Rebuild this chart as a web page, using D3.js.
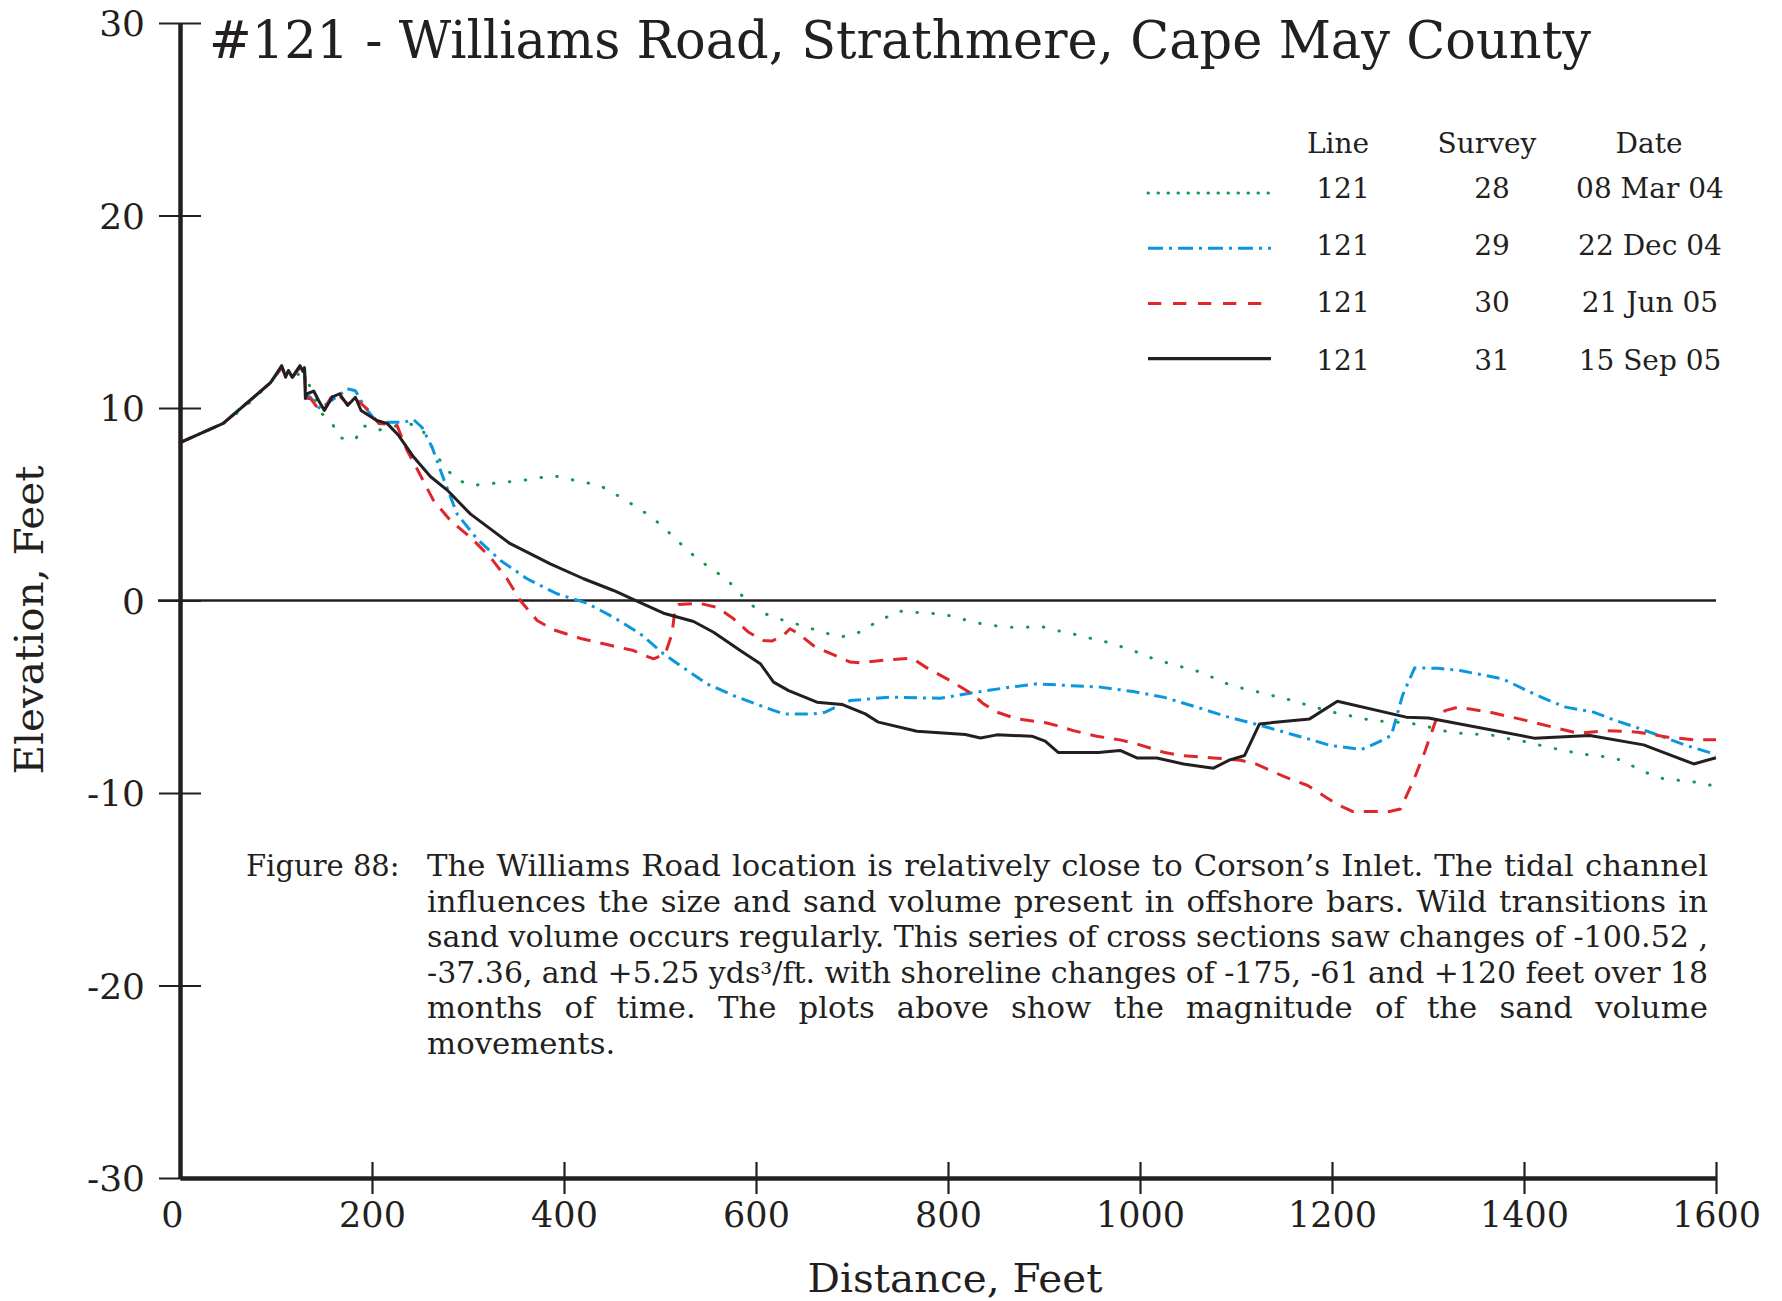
<!DOCTYPE html>
<html>
<head>
<meta charset="utf-8">
<script src="https://cdn.jsdelivr.net/npm/d3@7/dist/d3.min.js"></script>
<style>
  html, body { margin: 0; padding: 0; background: #ffffff; }
  svg { display: block; }
  text { font-family: "DejaVu Serif", "Liberation Serif", serif; fill: #231f20; }
</style>
</head>
<body>
<svg id="chart" width="1782" height="1301"></svg>
<script>
// ---------------- DATA ----------------
const chartTitle = "#121 - Williams Road, Strathmere, Cape May County";
const xTickValues = [0, 200, 400, 600, 800, 1000, 1200, 1400, 1600];
const yTickValues = [30, 20, 10, 0, -10, -20, -30];
const xLabel = "Distance, Feet";
const yLabel = "Elevation, Feet";

const legendHeaders = ["Line", "Survey", "Date"];
const legendLines = ["121", "121", "121", "121"];
const legendSurveys = ["28", "29", "30", "31"];
const legendDates = ["08 Mar 04", "22 Dec 04", "21 Jun 05", "15 Sep 05"];

// Survey 28 — 08 Mar 04 (distance ft, elevation ft)
const survey28 = [[0,8.2],[45,9.2],[61,9.8],[73,10.3],[94,11.3],[106,12.0],[115,11.86],[123.6,11.74],[134,11.26],[140,10.6],[146,9.79],[158.4,9.21],[166.3,8.45],[182.7,8.35],[190.3,9.1],[205.2,8.83],[236.5,9.21],[251,9.0],[267.4,7.53],[277.2,6.84],[289.2,6.25],[304.8,5.98],[321.5,6.06],[338.2,6.15],[354.5,6.22],[371.2,6.34],[387.5,6.5],[403.8,6.32],[420.4,6.15],[437,5.98],[451.6,5.58],[465.6,5.16],[480.2,4.71],[494,4.22],[506.5,3.67],[518.7,3.08],[530.8,2.51],[543.7,1.99],[557.6,1.52],[571.4,1.0],[582.6,0.4],[594,-0.19],[607.9,-0.66],[623.5,-0.95],[639.5,-1.18],[655.8,-1.43],[671.5,-1.68],[687.7,-1.89],[703.3,-1.77],[717.9,-1.33],[732.8,-0.95],[747.8,-0.55],[764,-0.61],[780.8,-0.66],[797.8,-0.74],[813.7,-0.95],[830,-1.16],[846.7,-1.3],[863,-1.39],[880.4,-1.39],[897,-1.35],[913.4,-1.56],[929.7,-1.73],[946.4,-1.94],[963,-2.13],[978.6,-2.37],[994.2,-2.63],[1009.8,-2.95],[1026.2,-3.21],[1041.8,-3.43],[1058.1,-3.64],[1073.6,-3.95],[1089.2,-4.3],[1105,-4.54],[1121.4,-4.73],[1138,-4.94],[1154.3,-5.14],[1170,-5.37],[1186.4,-5.6],[1202.6,-5.82],[1219.2,-5.99],[1235.8,-6.17],[1252,-6.27],[1268.7,-6.32],[1285.7,-6.41],[1301.5,-6.58],[1318.5,-6.79],[1335.2,-6.9],[1351.8,-6.95],[1368.8,-7.01],[1384.6,-7.19],[1400.9,-7.33],[1417.5,-7.53],[1433.7,-7.71],[1450.3,-7.88],[1467.3,-8.02],[1484,-8.11],[1500.3,-8.28],[1515.7,-8.66],[1530.5,-9.01],[1545.9,-9.27],[1563.3,-9.35],[1579.5,-9.44],[1596,-9.61],[1600,-9.65]];

// Survey 29 — 22 Dec 04
const survey29 = [[0,8.2],[45,9.2],[94,11.3],[106,12.1],[110,11.7],[113,11.9],[117,11.6],[125,12.1],[128,11.9],[130,12.0],[131,10.5],[135,10.6],[140,10.3],[146,9.96],[158,10.4],[166.7,10.7],[174,11.0],[182.7,10.9],[191.3,10.13],[205.2,9.26],[233,9.26],[243.4,9.39],[252,9.0],[262.5,7.97],[274.6,6.32],[288.6,4.5],[309.4,3.2],[333.8,2.08],[361.5,1.13],[392.7,0.35],[423.9,-0.14],[451.6,-0.87],[479.5,-1.73],[503.7,-2.77],[521.1,-3.38],[548.9,-4.33],[576.6,-4.94],[604.4,-5.46],[628.7,-5.89],[660,-5.89],[672.1,-5.8],[698,-5.2],[739.8,-5.02],[791.9,-5.08],[830,-4.76],[864.7,-4.5],[892.5,-4.33],[927.1,-4.42],[958.4,-4.5],[993.1,-4.73],[1024.4,-5.02],[1059,-5.54],[1090.4,-6.03],[1126.3,-6.5],[1178.7,-7.24],[1198,-7.53],[1230.9,-7.74],[1248.3,-7.36],[1261.8,-7.01],[1273.4,-4.94],[1286.1,-3.5],[1310.1,-3.52],[1333.3,-3.64],[1356.5,-3.86],[1377.7,-4.07],[1402.9,-4.68],[1422.1,-5.11],[1443.4,-5.54],[1472.4,-5.8],[1495.6,-6.24],[1524.6,-6.72],[1569.1,-7.53],[1600,-8.0]];

// Survey 30 — 21 Jun 05
const survey30 = [[0,8.2],[45,9.2],[94,11.3],[106,12.1],[110,11.7],[117,11.6],[125,12.1],[130,12.0],[131,10.5],[135.8,10.5],[142,10.1],[150,9.9],[156.6,10.5],[163,10.8],[174.6,10.2],[182.7,10.5],[194.8,9.96],[207,9.2],[226,9.1],[236.5,7.8],[246.9,6.84],[264,5.2],[281.6,4.16],[302.4,3.29],[323.2,2.25],[340.6,1.13],[354.5,0],[372,-1.04],[389.1,-1.52],[418.6,-1.99],[444.7,-2.29],[472.5,-2.6],[479.5,-2.77],[493.3,-3.03],[505.5,-2.77],[512.5,-1.73],[515.9,-0.35],[519.3,-0.21],[540.2,-0.14],[559.3,-0.35],[576.6,-0.95],[592.3,-1.65],[607.9,-2.08],[616.6,-2.11],[628.7,-1.8],[635.4,-1.47],[644.4,-1.73],[660,-2.35],[672,-2.63],[698,-3.2],[708.5,-3.24],[736.3,-3.08],[762.4,-3.0],[778,-3.5],[802.3,-4.16],[824.9,-4.85],[837,-5.37],[851,-5.8],[871.7,-6.15],[903,-6.36],[913.4,-6.5],[930.7,-6.76],[955,-7.05],[979.3,-7.24],[996.7,-7.45],[1024.5,-7.88],[1041.8,-8.05],[1080,-8.19],[1105,-8.3],[1120.5,-8.49],[1151.6,-9.18],[1174.6,-9.61],[1205.6,-10.6],[1221.2,-10.96],[1259.8,-10.96],[1271.3,-10.83],[1284.9,-9.35],[1296.5,-7.88],[1308.1,-6.24],[1317.8,-5.72],[1331.4,-5.54],[1364.2,-5.8],[1395.1,-6.15],[1429.9,-6.58],[1457,-6.9],[1486,-6.76],[1518.9,-6.84],[1549.8,-7.1],[1576.8,-7.24],[1600,-7.24]];

// Survey 31 — 15 Sep 05
const survey31 = [[0,8.2],[45,9.2],[94,11.3],[106,12.2],[110,11.6],[113,11.95],[117,11.6],[125,12.2],[128,11.9],[129.6,12.1],[130.6,10.5],[132.4,10.74],[139.3,10.88],[144.4,10.39],[150.4,9.87],[158.4,10.56],[166.3,10.74],[174.6,10.13],[182.7,10.56],[188.6,9.87],[205,9.35],[215.7,9.2],[227.8,8.57],[243.4,7.45],[260.8,6.44],[278,5.75],[302.4,4.5],[344,2.95],[368.3,2.34],[385.7,1.9],[420.4,1.13],[451.6,0.52],[476,-0.03],[503.7,-0.66],[535,-1.09],[555.8,-1.65],[583.6,-2.6],[604.5,-3.28],[618.3,-4.24],[634,-4.68],[663.5,-5.28],[689.5,-5.4],[713.8,-5.89],[727.6,-6.32],[767.6,-6.79],[818,-6.96],[833.8,-7.14],[851,-6.98],[887.3,-7.05],[901.2,-7.31],[915,-7.9],[956.8,-7.9],[979.3,-7.79],[996.7,-8.18],[1017.5,-8.18],[1045.3,-8.49],[1076.5,-8.71],[1093.5,-8.28],[1109,-8.05],[1124.5,-6.41],[1176.7,-6.15],[1205.6,-5.23],[1277.2,-6.06],[1300.4,-6.1],[1410.5,-7.15],[1468.6,-7.01],[1524.6,-7.5],[1576.8,-8.49],[1600,-8.17]];

const captionLabel = "Figure 88:";
const captionLines = [
  "The Williams Road location is relatively close to Corson\u2019s Inlet.  The tidal channel",
  "influences the size and sand volume present in offshore bars.  Wild transitions in",
  "sand volume occurs regularly.  This series of cross sections saw changes of -100.52 ,",
  "-37.36, and +5.25 yds\u00B3/ft. with shoreline changes of -175, -61 and +120 feet over 18",
  "months of time.  The plots above show the magnitude of the sand volume",
  "movements."
];

// ---------------- STYLE ----------------
const seriesStyle = [
  { data: survey28, color: "#0f9a4c", width: 3, dash: "0.5 15.5", cap: "round", legendDash: "0.5 9.5" },
  { data: survey29, color: "#0b97dd", width: 3, dash: "13 6 3 6", cap: "butt", legendDash: "15 6 3 6" },
  { data: survey30, color: "#e0262a", width: 3, dash: "14 10", cap: "butt", legendDash: "13.3 11.7" },
  { data: survey31, color: "#231f20", width: 3, dash: null, cap: "butt", legendDash: null }
];

const svg = d3.select("#chart");
const ink = "#231f20";
const plainNum = d => String(d);

const x = d3.scaleLinear().domain([0, 1600]).range([180, 1716]);
const y = d3.scaleLinear().domain([-30, 30]).range([1178, 23]);

// zero line
svg.append("line")
  .attr("x1", 158).attr("x2", x(1600))
  .attr("y1", y(0)).attr("y2", y(0))
  .attr("stroke", ink).attr("stroke-width", 2.4);

// series
const line = d3.line().x(d => x(d[0])).y(d => y(d[1]));
seriesStyle.forEach(s => {
  svg.append("path")
    .datum(s.data)
    .attr("d", line)
    .attr("fill", "none")
    .attr("stroke", s.color)
    .attr("stroke-width", s.width)
    .attr("stroke-linejoin", "round")
    .attr("stroke-linecap", s.cap)
    .attr("stroke-dasharray", s.dash);
});

// Y axis
const yAxis = svg.append("g")
  .attr("transform", `translate(${x(0)},0)`)
  .call(d3.axisLeft(y).tickValues(yTickValues).tickSizeOuter(0).tickSizeInner(21).tickFormat(plainNum));
yAxis.select(".domain").attr("stroke", ink).attr("stroke-width", 4.5);
yAxis.selectAll(".tick line").attr("x1", -21).attr("x2", 21).attr("stroke", ink).attr("stroke-width", 2.2);
yAxis.selectAll(".tick text")
  .attr("x", -35).attr("dy", "0.36em")
  .style("font-family", '"DejaVu Serif", serif').style("font-size", "36px").attr("fill", ink);

// X axis
const xAxis = svg.append("g")
  .attr("transform", `translate(0,${y(-30)})`)
  .call(d3.axisBottom(x).tickValues(xTickValues).tickSizeOuter(0).tickSizeInner(16).tickFormat(plainNum));
xAxis.select(".domain").attr("stroke", ink).attr("stroke-width", 4.5);
xAxis.selectAll(".tick line").attr("y1", -16).attr("y2", 16).attr("stroke", ink).attr("stroke-width", 2.2)
  .attr("opacity", d => d === 0 ? 0 : 1);
xAxis.selectAll(".tick text")
  .attr("y", 49).attr("dy", 0)
  .attr("x", d => d === 0 ? -8 : 0)
  .style("font-family", '"DejaVu Serif", serif').style("font-size", "35px").attr("fill", ink);

// Title
svg.append("text")
  .attr("x", 209).attr("y", 58)
  .attr("textLength", 1382).attr("lengthAdjust", "spacingAndGlyphs")
  .style("font-size", "52px")
  .text(chartTitle);

// Axis titles
svg.append("text")
  .attr("transform", `translate(43,620) rotate(-90)`)
  .attr("text-anchor", "middle")
  .attr("textLength", 309).attr("lengthAdjust", "spacingAndGlyphs")
  .style("font-size", "39px")
  .text(yLabel);
svg.append("text")
  .attr("x", 955).attr("y", 1292)
  .attr("text-anchor", "middle")
  .attr("textLength", 295).attr("lengthAdjust", "spacingAndGlyphs")
  .style("font-size", "39px")
  .text(xLabel);

// Legend
const legend = svg.append("g");
const colCenters = [1338, 1487, 1649];
legend.selectAll("text.hdr").data(legendHeaders).join("text")
  .attr("class", "hdr")
  .attr("x", (d, i) => colCenters[i]).attr("y", 153)
  .attr("text-anchor", "middle").style("font-size", "28px")
  .text(d => d);
const rowTextY = i => 198 + i * 57.2;
const rowLineY = i => 193 + i * 55.2;
seriesStyle.forEach((s, i) => {
  legend.append("line")
    .attr("x1", 1148).attr("x2", 1271)
    .attr("y1", rowLineY(i)).attr("y2", rowLineY(i))
    .attr("stroke", s.color).attr("stroke-width", i === 3 ? 3.3 : 3)
    .attr("stroke-linecap", s.cap)
    .attr("stroke-dasharray", s.legendDash);
  const cols = [legendLines[i], legendSurveys[i], legendDates[i]];
  const centers = [1343, 1492, 1650];
  cols.forEach((t, j) => {
    legend.append("text")
      .attr("x", centers[j]).attr("y", rowTextY(i))
      .attr("text-anchor", "middle").style("font-size", "28px")
      .text(t);
  });
});

// Caption (justified lines)
const cap = svg.append("g").style("font-size", "29px");
const capX0 = 427, capW = 1708 - 427, capY0 = 876, capLH = 35.5;
const stretch = 1.06;
cap.append("text").attr("x", 246).attr("y", capY0).text(captionLabel);
captionLines.forEach((ln, i) => {
  const yy = capY0 + i * capLH;
  const isLast = i === captionLines.length - 1;
  const t = cap.append("text").style("white-space", "pre");
  if (isLast) {
    t.attr("transform", `translate(${capX0},${yy}) scale(${stretch},1)`).text(ln);
    return;
  }
  const words = ln.split(" ").filter(w => w.length);
  const spans = words.map(w => t.append("tspan").attr("y", 0).text(w));
  const widths = spans.map(sp => sp.node().getComputedTextLength());
  const sum = d3.sum(widths);
  const minGap = 9;
  const n = words.length;
  let k = stretch;
  if (sum * k + minGap * k * (n - 1) > capW) k = capW / (sum + minGap * (n - 1));
  const localW = capW / k;
  const gap = (localW - sum) / (n - 1);
  let cx = 0;
  spans.forEach((sp, j) => {
    sp.attr("x", cx);
    if (j < n - 1) sp.text(words[j] + " ");
    cx += widths[j] + gap;
  });
  t.attr("transform", `translate(${capX0},${yy}) scale(${k},1)`);
});
</script>
</body>
</html>
